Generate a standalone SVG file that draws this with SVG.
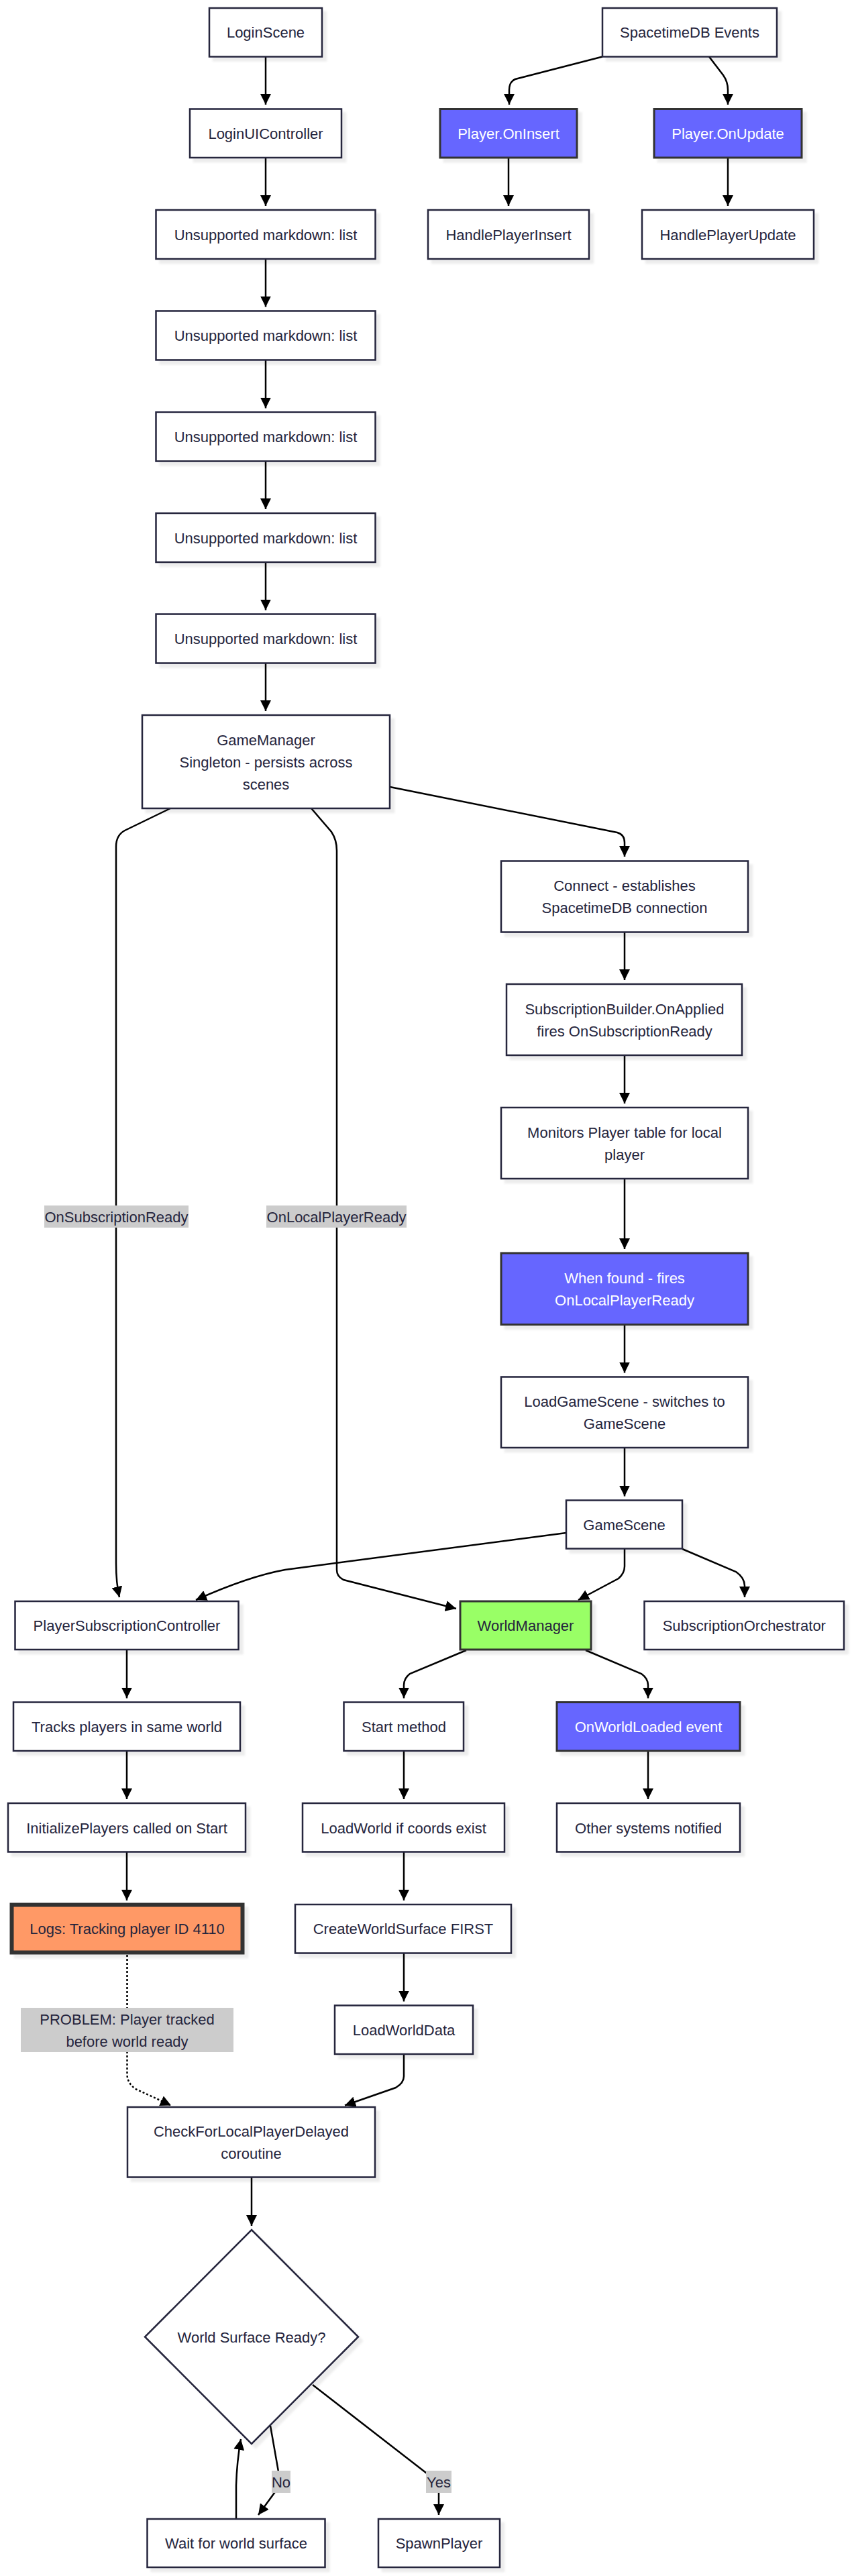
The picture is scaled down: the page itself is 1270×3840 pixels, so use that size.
<svg xmlns="http://www.w3.org/2000/svg" width="1270" height="3840" viewBox="0 0 1270 3840">
<style>
  .bg { fill: #ffffff; }
  .node rect, .node polygon { fill: #ffffff; stroke: #25253d; stroke-width: 2.5; filter: url(#shadow); }
  .node text, .lbl text { font-family: "Liberation Sans", Arial, sans-serif; font-size: 22px; fill: #25253d; text-anchor: middle; }
  .node.blue rect { fill: #6666ff; stroke: #333333; stroke-width: 3; }
  .node.blue text { fill: #ffffff; }
  .node.green rect { fill: #99ff66; stroke: #333333; stroke-width: 3; }
  .node.orange rect { fill: #ff9966; stroke: #333333; stroke-width: 6; }
  .edge { fill: none; stroke: #000000; stroke-width: 2.5; marker-end: url(#arrow); }
  .dotted { stroke-dasharray: 3 3; }
  .lbl rect { fill: #cccccc; }
</style>
<defs>
  <marker id="arrow" viewBox="0 0 10 10" refX="10" refY="5" markerUnits="userSpaceOnUse" markerWidth="16" markerHeight="16" orient="auto">
    <path d="M0,0 L10,5 L0,10 z" fill="#000000"/>
  </marker>
  <filter id="shadow" x="-10%" y="-10%" width="130%" height="140%">
    <feDropShadow dx="6" dy="6" stdDeviation="1.5" flood-color="#000000" flood-opacity="0.07"/>
  </filter>
</defs>
<rect class="bg" x="0" y="0" width="1270" height="3840"/>

<g id="connectors">
  <path class="edge" d="M396,84.5 L396,156"/>
  <path class="edge" d="M396,235 L396,307"/>
  <path class="edge" d="M396,386 L396,457.5"/>
  <path class="edge" d="M396,536.5 L396,608.5"/>
  <path class="edge" d="M396,687.5 L396,759"/>
  <path class="edge" d="M396,838 L396,909.5"/>
  <path class="edge" d="M396,988.5 L396,1060"/>
  <path class="edge" d="M898,84.5 L768,118 Q759,122 759,134 L759,156"/>
  <path class="edge" d="M1057,84.5 L1078,112 Q1085,122 1085,134 L1085,156"/>
  <path class="edge" d="M758,235 L758,307"/>
  <path class="edge" d="M1085,235 L1085,307"/>
  <path class="edge" d="M254,1205 L186,1238 Q173,1245 173,1262 L173,2330 Q173,2360 178,2381"/>
  <path class="edge" d="M464,1205 L494,1240 Q502,1252 502,1268 L502,2340 Q502,2350 512,2355 L680,2398"/>
  <path class="edge" d="M581,1173 L920,1241 Q931,1244 931,1256 L931,1277"/>
  <path class="edge" d="M931,1389.5 L931,1461"/>
  <path class="edge" d="M931,1573 L931,1645"/>
  <path class="edge" d="M931,1757 L931,1862"/>
  <path class="edge" d="M931,1974.5 L931,2046.5"/>
  <path class="edge" d="M931,2158 L931,2230.5"/>
  <path class="edge" d="M844,2285 L425,2340 Q370,2350 292,2385"/>
  <path class="edge" d="M931,2308.5 L931,2335 Q931,2345 922,2353 L862,2385"/>
  <path class="edge" d="M1017,2309 L1097,2343 Q1110,2352 1110,2364 L1110,2381"/>
  <path class="edge" d="M189,2459 L189,2531.5"/>
  <path class="edge" d="M695,2460 L611,2495 Q602,2502 602,2512 L602,2531.5"/>
  <path class="edge" d="M873,2460 L956,2495 Q966,2502 966,2512 L966,2531.5"/>
  <path class="edge" d="M189,2610 L189,2682"/>
  <path class="edge" d="M602,2610 L602,2682"/>
  <path class="edge" d="M966,2610 L966,2682"/>
  <path class="edge" d="M189,2760.5 L189,2833"/>
  <path class="edge" d="M602,2760.5 L602,2833"/>
  <path class="edge" d="M602,2911.5 L602,2983.5"/>
  <path class="edge dotted" d="M189.5,2914 L189.5,3092 Q189.5,3105 202,3114 L255,3138.5"/>
  <path class="edge" d="M602,3062 L602,3095 Q602,3105 590,3112 L514,3138.5"/>
  <path class="edge" d="M375,3245.5 L375,3318"/>
  <path class="edge" d="M403,3616 L416,3690 Q418,3702 412,3712 L385,3749"/>
  <path class="edge" d="M466,3555 L640,3690 Q654,3700 654,3712 L654,3749"/>
  <path class="edge" d="M352,3755 L352,3705 Q353,3670 359,3636"/>
</g>

<g id="edge-labels">
  <g class="lbl"><rect x="66" y="1797" width="215" height="33"/><text x="173.5" y="1821.5">OnSubscriptionReady</text></g>
  <g class="lbl"><rect x="397" y="1797" width="209" height="33"/><text x="501.5" y="1821.5">OnLocalPlayerReady</text></g>
  <g class="lbl"><rect x="31" y="2993" width="317" height="66"/><text x="189.5" y="3018">PROBLEM: Player tracked</text><text x="189.5" y="3051">before world ready</text></g>
  <g class="lbl"><rect x="405" y="3683" width="28" height="33"/><text x="419" y="3707.5">No</text></g>
  <g class="lbl"><rect x="635" y="3683" width="38" height="33"/><text x="654" y="3707.5">Yes</text></g>
</g>

<g id="n_login" class="node"><rect x="312" y="12" width="168" height="72.5"/><text x="396" y="56">LoginScene</text></g>
<g id="n_stdb" class="node"><rect x="898" y="12" width="260" height="72.5"/><text x="1028" y="56">SpacetimeDB Events</text></g>
<g id="n_loginui" class="node"><rect x="283" y="162.5" width="226" height="72.5"/><text x="396" y="207">LoginUIController</text></g>
<g id="n_oninsert" class="node blue"><rect x="656" y="162.5" width="204" height="72.5"/><text x="758" y="207">Player.OnInsert</text></g>
<g id="n_onupdate" class="node blue"><rect x="975" y="162.5" width="220" height="72.5"/><text x="1085" y="207">Player.OnUpdate</text></g>
<g id="n_u1" class="node"><rect x="232.5" y="313" width="327" height="73"/><text x="396" y="357.5">Unsupported markdown: list</text></g>
<g id="n_hpi" class="node"><rect x="638" y="313" width="240" height="73"/><text x="758" y="357.5">HandlePlayerInsert</text></g>
<g id="n_hpu" class="node"><rect x="957" y="313" width="256" height="73"/><text x="1085" y="357.5">HandlePlayerUpdate</text></g>
<g id="n_u2" class="node"><rect x="232.5" y="463.5" width="327" height="73"/><text x="396" y="508">Unsupported markdown: list</text></g>
<g id="n_u3" class="node"><rect x="232.5" y="614.5" width="327" height="73"/><text x="396" y="659">Unsupported markdown: list</text></g>
<g id="n_u4" class="node"><rect x="232.5" y="765" width="327" height="73"/><text x="396" y="809.5">Unsupported markdown: list</text></g>
<g id="n_u5" class="node"><rect x="232.5" y="915.5" width="327" height="73"/><text x="396" y="960">Unsupported markdown: list</text></g>
<g id="n_gm" class="node"><rect x="212" y="1066" width="369" height="139"/><text x="396.5" y="1111">GameManager</text><text x="396.5" y="1144">Singleton - persists across</text><text x="396.5" y="1177">scenes</text></g>
<g id="n_connect" class="node"><rect x="747" y="1283.5" width="368" height="106"/><text x="931" y="1328">Connect - establishes</text><text x="931" y="1361">SpacetimeDB connection</text></g>
<g id="n_sb" class="node"><rect x="755" y="1467" width="351" height="106"/><text x="931" y="1511.5">SubscriptionBuilder.OnApplied</text><text x="931" y="1544.5">fires OnSubscriptionReady</text></g>
<g id="n_monitors" class="node"><rect x="747" y="1651" width="368" height="106"/><text x="931" y="1695.5">Monitors Player table for local</text><text x="931" y="1728.5">player</text></g>
<g id="n_whenfound" class="node blue"><rect x="747" y="1868" width="368" height="106.5"/><text x="931" y="1912.5">When found - fires</text><text x="931" y="1945.5">OnLocalPlayerReady</text></g>
<g id="n_loadgs" class="node"><rect x="747" y="2052.5" width="368" height="105.5"/><text x="931" y="2097">LoadGameScene - switches to</text><text x="931" y="2130">GameScene</text></g>
<g id="n_gs" class="node"><rect x="844" y="2236.5" width="173" height="72"/><text x="930.5" y="2280.5">GameScene</text></g>
<g id="n_psc" class="node"><rect x="22.5" y="2387" width="333" height="72"/><text x="189" y="2431">PlayerSubscriptionController</text></g>
<g id="n_wm" class="node green"><rect x="686" y="2387" width="195" height="72"/><text x="783.5" y="2431">WorldManager</text></g>
<g id="n_so" class="node"><rect x="960.5" y="2387" width="297.5" height="72"/><text x="1109.3" y="2431">SubscriptionOrchestrator</text></g>
<g id="n_tracks" class="node"><rect x="20" y="2537.5" width="338" height="72.5"/><text x="189" y="2582">Tracks players in same world</text></g>
<g id="n_start" class="node"><rect x="512.5" y="2537.5" width="178.5" height="72.5"/><text x="602" y="2582">Start method</text></g>
<g id="n_owl" class="node blue"><rect x="830" y="2537.5" width="273" height="72.5"/><text x="966.5" y="2582">OnWorldLoaded event</text></g>
<g id="n_init" class="node"><rect x="12" y="2688" width="354" height="72.5"/><text x="189" y="2732.5">InitializePlayers called on Start</text></g>
<g id="n_loadworld" class="node"><rect x="451" y="2688" width="301" height="72.5"/><text x="601.5" y="2732.5">LoadWorld if coords exist</text></g>
<g id="n_other" class="node"><rect x="830" y="2688" width="273" height="72.5"/><text x="966.5" y="2732.5">Other systems notified</text></g>
<g id="n_logs" class="node orange"><rect x="17.5" y="2839.5" width="344" height="71"/><text x="189.5" y="2883">Logs: Tracking player ID 4110</text></g>
<g id="n_cws" class="node"><rect x="440" y="2839" width="322" height="72.5"/><text x="601" y="2883">CreateWorldSurface FIRST</text></g>
<g id="n_lwd" class="node"><rect x="499" y="2989.5" width="206" height="72.5"/><text x="602" y="3034">LoadWorldData</text></g>
<g id="n_check" class="node"><rect x="190" y="3141" width="369" height="104.5"/><text x="374.5" y="3185">CheckForLocalPlayerDelayed</text><text x="374.5" y="3218">coroutine</text></g>
<g id="n_decision" class="node"><polygon points="375,3324 534,3483.5 375,3643 216,3483.5"/><text x="375" y="3491.5">World Surface Ready?</text></g>
<g id="n_wait" class="node"><rect x="219.5" y="3755" width="265" height="72"/><text x="352" y="3799">Wait for world surface</text></g>
<g id="n_spawn" class="node"><rect x="564" y="3755" width="181" height="72"/><text x="654.5" y="3799">SpawnPlayer</text></g>
</svg>
